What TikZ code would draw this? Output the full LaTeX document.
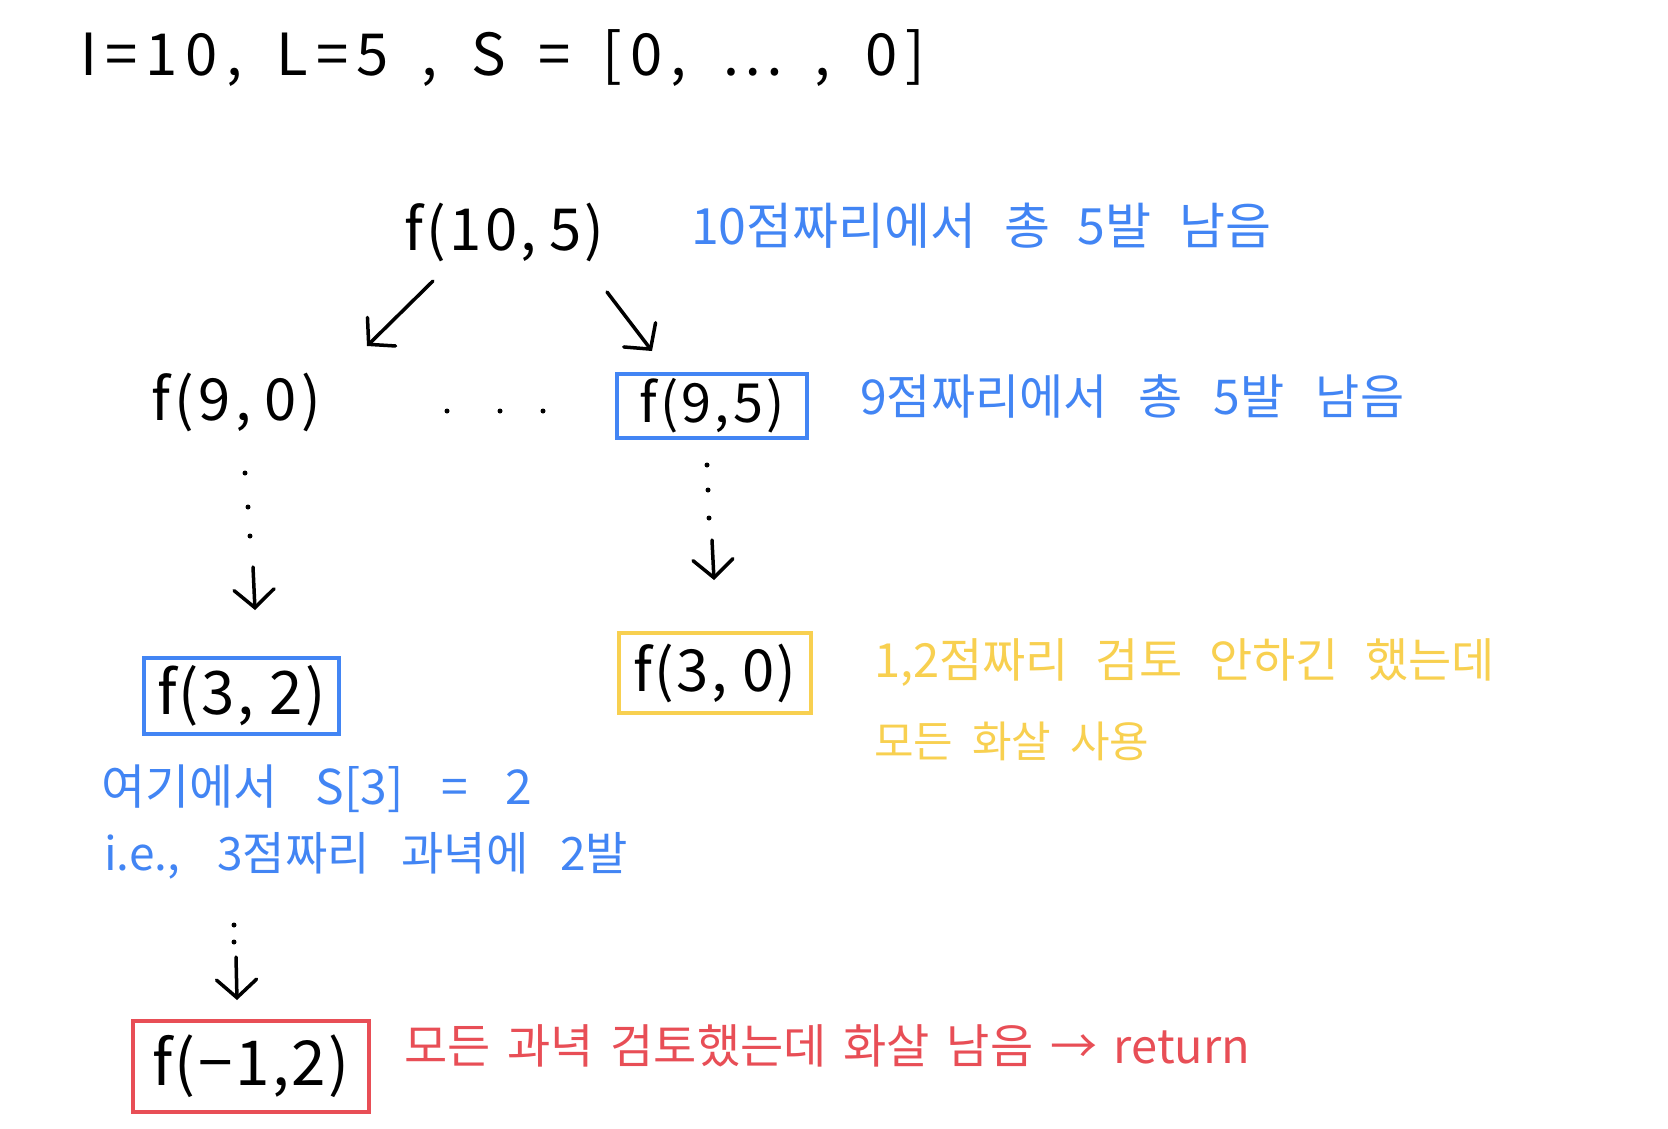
\documentclass[tikz,border=0pt]{standalone}
\usepackage{fontspec}
\setmainfont{Noto Sans CJK KR}
\usetikzlibrary{arrows.meta}
\definecolor{hblue}{RGB}{66,133,244}
\definecolor{hyel}{RGB}{248,208,80}
\definecolor{hred}{RGB}{232,78,86}
\newcommand\fsz[1]{\fontsize{#1}{#1}\selectfont}
\newcommand\lsp[1]{\addfontfeatures{LetterSpace=#1}}
\begin{document}
\begin{tikzpicture}[x=1pt,y=-1pt,
  txt/.style={anchor=west, inner sep=0pt},
  fbox/.style={draw, line width=3.5pt, inner sep=0pt},
  arr/.style={line width=3.5pt, line cap=round, -{Straight Barb[length=18pt,width=40pt,line cap=round]}},
  dotn/.style={circle, fill=black, inner sep=0pt, minimum size=5pt}]
\fill[white] (0,0) rectangle (1668,1128);
\useasboundingbox (0,0) rectangle (1668,1128);

% title
\node[txt, font=\fsz{58}\lsp{14}] (title) at (80,58) {\makebox[845pt][s]{I=10, L=5 , S = [0, ⋯ , 0]}};

% root
\node[txt, font=\fsz{58}\lsp{6}] (f105) at (404,232) {\makebox[197pt][s]{f(10, 5)}};
\node[txt, text=hblue, font=\fsz{50}] (t1) at (691,226) {\makebox[580pt][s]{10점짜리에서 총 5발 남음}};

% level 1
\coordinate (r1s) at (433,281);
\coordinate (r1e) at (367,346);
\coordinate (r2s) at (607,292);
\coordinate (r2e) at (652,351);
\draw[arr] (r1s) -- (r1e);
\draw[arr] (r2s) -- (r2e);

\node[txt, font=\fsz{58}\lsp{8}] (f90) at (151,402) {\makebox[168pt][s]{f(9, 0)}};
\node[dotn] (h1) at (447,411) {};
\node[dotn] (h2) at (500,411) {};
\node[dotn] (h3) at (543,411) {};
\node[fbox, draw=hblue, minimum width=190pt, minimum height=64pt, font=\fsz{54}\lsp{6}] (f95) at (712,406) {f(9,5)};
\node[txt, text=hblue, font=\fsz{48}] (t2) at (860,396) {\makebox[544pt][s]{9점짜리에서 총 5발 남음}};

% left chain
\node[dotn] (d1) at (245,473) {};
\node[dotn] (d2) at (248,507) {};
\node[dotn] (d3) at (250,536) {};
\coordinate (a1s) at (253,567);
\coordinate (a1e) at (255,610);
\draw[arr] (a1s) -- (a1e);
\node[fbox, draw=hblue, minimum width=195pt, minimum height=76pt, font=\fsz{60}\lsp{4}] (f32) at (241.5,696) {f(3, 2)};

% right chain
\node[dotn] (e1) at (707,465) {};
\node[dotn] (e2) at (708,490) {};
\node[dotn] (e3) at (709,518) {};
\coordinate (a2s) at (712,540);
\coordinate (a2e) at (714,580);
\draw[arr] (a2s) -- (a2e);
\node[fbox, draw=hyel, minimum width=192pt, minimum height=80pt, font=\fsz{58}\lsp{4}] (f30) at (715,673) {f(3, 0)};
\node[txt, text=hyel, font=\fsz{47}] (t3) at (874,663) {\makebox[621pt][s]{1,2점짜리 검토 안하긴 했는데}};
\node[txt, text=hyel, font=\fsz{43}] (t4) at (874,741) {\makebox[275pt][s]{모든 화살 사용}};

% notes
\node[txt, text=hblue, font=\fsz{48}] (t5) at (101,789) {\makebox[431pt][s]{여기에서 S[3] = 2}};
\node[txt, text=hblue, font=\fsz{46}] (t6) at (104,856) {\makebox[524pt][s]{i.e., 3점짜리 과녁에 2발}};

% bottom chain
\node[dotn] (g1) at (234,925) {};
\node[dotn] (g2) at (234,942) {};
\coordinate (a3s) at (236,957);
\coordinate (a3e) at (237,1000);
\draw[arr] (a3s) -- (a3e);
\node[fbox, draw=hred, minimum width=236pt, minimum height=91pt, font=\fsz{62}\lsp{4}] (fm12) at (251,1066.5) {f(−1,2)};
\node[txt, text=hred, font=\fsz{47}] (t7) at (404,1046) {\makebox[846pt][s]{모든 과녁 검토했는데 화살 남음 → return}};
\end{tikzpicture}
\end{document}
